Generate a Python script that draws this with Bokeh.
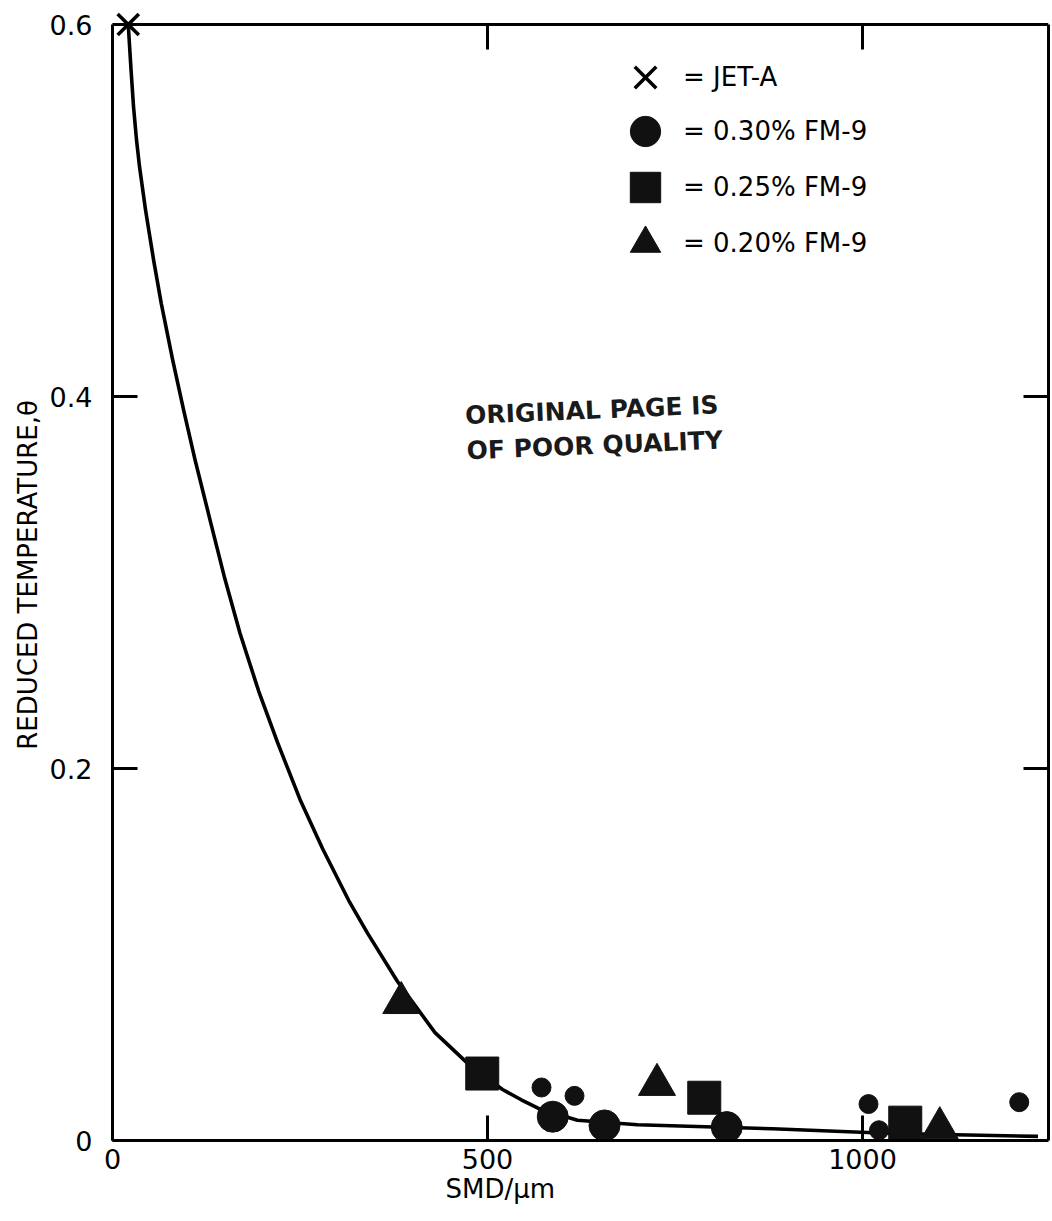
from bokeh.plotting import figure
from bokeh.models import Range1d, LinearAxis, FixedTicker, Legend, LegendItem, Label, Span, Title
from bokeh.embed import file_html
from bokeh.resources import INLINE

# ---- data ----
jet_a_x = [21]
jet_a_y = [0.600]

fm030_x = [587, 656, 819]
fm030_y = [0.0128, 0.0081, 0.0072]
fm030_small_x = [572, 616, 1008, 1022, 1209]
fm030_small_y = [0.0285, 0.024, 0.0196, 0.0055, 0.0206]

fm025_x = [493, 789, 1057]
fm025_y = [0.036, 0.023, 0.0096]

fm020_x = [385, 726, 1103]
fm020_y = [0.074, 0.030, 0.0067]

curve_x = [21, 24.5, 28, 32, 36, 44, 55, 65, 80, 95, 110, 130, 150, 170, 195, 220, 250,
           280, 315, 340, 380, 430, 475, 520, 545, 570, 620, 700, 880, 1040, 1234]
curve_y = [0.600, 0.577, 0.556, 0.538, 0.5236, 0.5004, 0.4729, 0.4501, 0.4201, 0.3924,
           0.3661, 0.3337, 0.3017, 0.2727, 0.2415, 0.2140, 0.1834, 0.1570, 0.1290,
           0.1115, 0.0855, 0.0580, 0.0409, 0.0274, 0.0219, 0.0169, 0.0109, 0.0085,
           0.0063, 0.0038, 0.0022]

x_ticks = [0, 500, 1000]
y_ticks = [0, 0.2, 0.4, 0.6]
top_ticks = [500, 1000]
right_ticks = [0.2, 0.4]
y_top = 0.6
legend_labels = ["= JET-A", "= 0.30% FM-9", "= 0.25% FM-9", "= 0.20% FM-9"]
x_title = "SMD/\u03bcm"
y_title = "REDUCED TEMPERATURE,\u03b8"
stamp_lines = ["ORIGINAL PAGE IS", "OF POOR QUALITY"]

FONT = "DejaVu Sans"
INK = "#111111"

# layout (pixels)
FRAME_TOP, FRAME_BOTTOM = 9, 1140
PX_PER_UNIT = 1860.0          # vertical pixels per unit of theta
TICK = 25                     # inward tick length, px
y_end = y_top + (24 - FRAME_TOP) / PX_PER_UNIT

p = figure(width=1052, height=1221,
           x_range=Range1d(0, 1248), y_range=Range1d(0, y_end),
           output_backend="svg", toolbar_location=None,
           min_border_left=112, min_border_right=4,
           min_border_top=FRAME_TOP, min_border_bottom=1221 - FRAME_BOTTOM)
p.grid.visible = False
p.outline_line_color = None
p.background_fill_color = "white"
p.border_fill_color = "white"

# top border of the box at theta = 0.6 and its inward ticks
p.add_layout(Span(location=y_top, dimension="width", line_color="black", line_width=3))
p.segment(x0=top_ticks, x1=top_ticks, y0=[y_top] * len(top_ticks),
          y1=[y_top - TICK / PX_PER_UNIT] * len(top_ticks),
          line_color="black", line_width=3)

# curve
p.line(curve_x, curve_y, line_width=3.6, line_color="black", line_join="round")

# markers
r_x = p.scatter(jet_a_x, jet_a_y, marker="x", size=30, line_width=3.5, line_color="black")
r_c = p.scatter(fm030_x, fm030_y, marker="circle", size=31, fill_color=INK, line_color=INK)
p.scatter(fm030_small_x, fm030_small_y, marker="circle", size=19, fill_color=INK, line_color=INK)
r_s = p.scatter(fm025_x, fm025_y, marker="square", size=33, fill_color=INK, line_color=INK)
r_t = p.scatter(fm020_x, fm020_y, marker="triangle", size=37, fill_color=INK, line_color=INK)

# axes
xa = p.xaxis[0]
ya = p.yaxis[0]
xa.ticker = FixedTicker(ticks=x_ticks)
ya.ticker = FixedTicker(ticks=y_ticks)
ya.bounds = (0, y_top)
ya.major_label_overrides = {0: "0"}
ya.axis_label = y_title
ya.axis_label_text_font = FONT
ya.axis_label_text_font_size = "26px"
ya.axis_label_text_font_style = "normal"
ya.axis_label_text_color = "black"
ya.axis_label_standoff = 4
ya.major_label_standoff = 20
xa.major_label_standoff = 8

right_ax = LinearAxis(ticker=FixedTicker(ticks=right_ticks),
                      major_label_overrides={t: "" for t in right_ticks},
                      major_label_standoff=0, bounds=(0, y_top))
p.add_layout(right_ax, "right")

for ax in [xa, ya, right_ax]:
    ax.axis_line_width = 3
    ax.axis_line_color = "black"
    ax.major_tick_line_width = 3
    ax.major_tick_line_color = "black"
    ax.major_tick_in = TICK
    ax.major_tick_out = 0
    ax.minor_tick_in = 0
    ax.minor_tick_out = 0
    ax.minor_tick_line_color = None
for ax in [xa, ya]:
    ax.major_label_text_font = FONT
    ax.major_label_text_font_size = "27px"
    ax.major_label_text_color = "black"

# x axis title, centred under the 500 tick as in the reference
p.add_layout(Title(text=x_title, align="left", offset=333, standoff=0,
                   text_font=FONT, text_font_size="26px", text_font_style="normal",
                   text_color="black"), "below")

# stamp
for txt, sx, sy in [(stamp_lines[0], 471, 0.382), (stamp_lines[1], 473, 0.363)]:
    p.add_layout(Label(x=sx, y=sy, text=txt, angle=0.042,
                       text_font=FONT, text_font_style="bold", text_font_size="25px",
                       text_color="#1a1a1a"))

# legend: one small legend per row so the keys can be large and rows tight
GLYPH = 76
row_centres = [77, 131, 187, 243]
for lbl, rend, yc in zip(legend_labels, [r_x, r_c, r_s, r_t], row_centres):
    lg = Legend(items=[LegendItem(label=lbl, renderers=[rend])],
                location=(645 - GLYPH / 2 - 112, FRAME_BOTTOM - (yc + GLYPH / 2)))
    lg.padding = 0
    lg.margin = 0
    lg.glyph_width = GLYPH
    lg.glyph_height = GLYPH
    lg.label_standoff = 0
    lg.label_text_font = FONT
    lg.label_text_font_size = "26px"
    lg.label_text_color = "black"
    lg.background_fill_alpha = 0
    lg.border_line_alpha = 0
    p.add_layout(lg)

open("out.html", "w").write(file_html(p, INLINE))
